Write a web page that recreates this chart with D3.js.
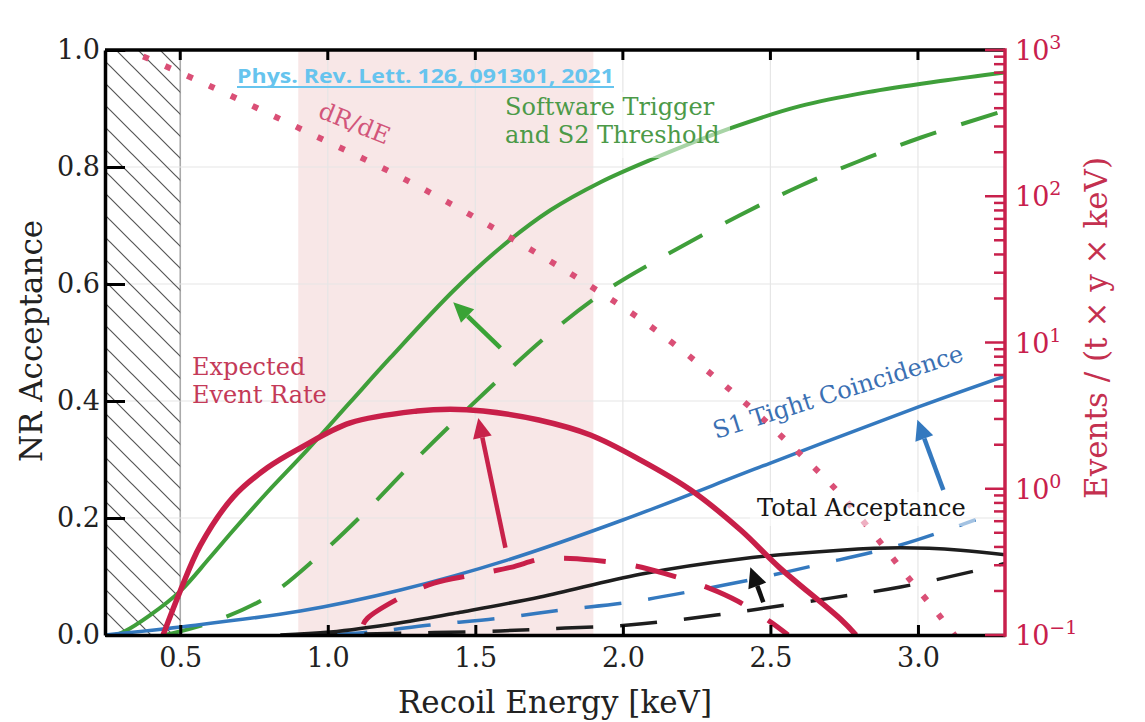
<!DOCTYPE html>
<html>
<head>
<meta charset="utf-8">
<script src="https://cdn.jsdelivr.net/npm/d3@7"></script>
<style>
  body { margin: 0; background: #fff; }
  svg { display: block; font-family: "DejaVu Serif", serif; }
</style>
</head>
<body>
<svg id="chart" width="1145" height="722"></svg>
<script>
// --- data (energy in keV) ---
// acceptance curves, left axis
var trigE   = [0.28, 0.307, 0.398, 0.5, 0.6, 0.68, 0.795, 0.93, 1.076, 1.212, 1.425, 1.585, 1.754, 1.924, 2.093, 2.375, 2.6, 2.83, 3.076, 3.3];
var trigAcc = [0.0, 0.005, 0.034, 0.075, 0.132, 0.179, 0.244, 0.316, 0.398, 0.474, 0.588, 0.662, 0.726, 0.774, 0.812, 0.868, 0.904, 0.928, 0.947, 0.962];
var trigDashE   = [0.449, 0.602, 0.795, 0.964, 1.134, 1.314, 1.527, 1.754, 1.947, 2.127, 2.398, 2.602, 2.795, 3.008, 3.297];
var trigDashAcc = [0.0, 0.021, 0.065, 0.133, 0.214, 0.308, 0.412, 0.516, 0.59, 0.644, 0.718, 0.768, 0.809, 0.85, 0.897];
var s1E   = [0.246, 0.5, 0.907, 1.246, 1.608, 2.002, 2.5, 3.002, 3.297];
var s1Acc = [0.0, 0.0137, 0.041, 0.077, 0.128, 0.197, 0.294, 0.39, 0.443];
var s1DashE   = [1.008, 1.144, 1.347, 1.585, 1.798, 2.019, 2.236, 2.476, 2.659, 2.941, 3.195];
var s1DashAcc = [0.0, 0.005, 0.017, 0.029, 0.043, 0.056, 0.075, 0.099, 0.12, 0.154, 0.197];
var totE   = [0.839, 1.008, 1.246, 1.449, 1.72, 2.059, 2.398, 2.737, 2.941, 3.144, 3.297];
var totAcc = [0.0, 0.005, 0.021, 0.039, 0.065, 0.104, 0.13, 0.145, 0.149, 0.145, 0.137];
var totDashE   = [0.907, 1.246, 1.585, 1.805, 2.019, 2.239, 2.456, 2.703, 2.941, 3.222, 3.297];
var totDashAcc = [0.0, 0.003, 0.007, 0.012, 0.017, 0.029, 0.044, 0.063, 0.082, 0.113, 0.123];

// event rates, right (log) axis, events / (t x y x keV)
var dRdE_E    = [0.3, 0.35, 0.6, 0.93, 1.26, 1.58, 1.89, 2.12, 2.4, 2.54, 2.73, 2.85, 2.96, 3.08, 3.15];
var dRdE_rate = [1050, 950, 568, 275, 131, 57.8, 24.3, 11.8, 4.1, 2.26, 0.95, 0.49, 0.257, 0.13, 0.085];
var rateE   = [0.442, 0.5, 0.568, 0.68, 0.795, 0.907, 1.076, 1.303, 1.415, 1.527, 1.715, 1.89, 2.06, 2.23, 2.4, 2.53, 2.74, 2.79];
var rateVal = [0.1, 0.2, 0.41, 0.88, 1.39, 1.9, 2.82, 3.4, 3.5, 3.4, 2.95, 2.33, 1.57, 0.98, 0.52, 0.29, 0.127, 0.1];
var rateDashE   = [1.12, 1.134, 1.25, 1.36, 1.49, 1.62, 1.72, 1.8, 1.9, 2.03, 2.14, 2.29, 2.39, 2.5, 2.56];
var rateDashVal = [0.118, 0.13, 0.182, 0.226, 0.257, 0.29, 0.33, 0.335, 0.325, 0.30, 0.264, 0.21, 0.17, 0.123, 0.1];

var xTicks = [0.5, 1.0, 1.5, 2.0, 2.5, 3.0];
var yTicks = [0.0, 0.2, 0.4, 0.6, 0.8, 1.0];
var rTicks = [-1, 0, 1, 2, 3];   // decades on the right axis

// arrows: [E tail, acc tail, E head, acc head, colour]
var arrows = [
  [1.585, 0.491, 1.425, 0.569, '#3aa336'],
  [1.602, 0.149, 1.51, 0.371, '#c8224a'],
  [3.086, 0.248, 2.998, 0.368, '#3479bf'],
  [2.476, 0.056, 2.432, 0.116, '#111']
];

var GREEN = '#3f9f3a', BLUE = '#3479bf', RED = '#c81f49', BLACK = '#1e1e1e', PINK = '#da4f76';

var svg = d3.select('#chart');
var pL = 105, pR = 1005, pT = 50, pB = 635;

var x = d3.scaleLinear().domain([0.245, 3.295]).range([pL, pR]);
var yL = d3.scaleLinear().domain([0, 1]).range([pB, pT]);
var yR = d3.scaleLog().domain([0.1, 1000]).range([pB, pT]);

var defs = svg.append('defs');
defs.append('clipPath').attr('id', 'plot')
  .append('rect').attr('x', pL).attr('y', pT).attr('width', pR - pL).attr('height', pB - pT);
var hatch = defs.append('pattern').attr('id', 'hatch')
  .attr('patternUnits', 'userSpaceOnUse').attr('width', 22).attr('height', 22);
hatch.append('path').attr('d', 'M-2,-2 L24,24 M-2,20 L2,24 M20,-2 L24,2')
  .attr('stroke', '#555').attr('stroke-width', 1.2);

// shaded energy window
svg.append('rect')
  .attr('x', x(0.9)).attr('y', pT)
  .attr('width', x(1.9) - x(0.9)).attr('height', pB - pT)
  .attr('fill', '#f8e7e7');

// grid
svg.append('g').selectAll('line').data(xTicks).enter().append('line')
  .attr('x1', d => x(d)).attr('x2', d => x(d)).attr('y1', pT).attr('y2', pB)
  .attr('stroke', d => d === 0.5 ? '#aaa' : '#e6e6e6').attr('stroke-width', d => d === 0.5 ? 1.6 : 1.2);
svg.append('g').selectAll('line').data(yTicks.slice(1, 5)).enter().append('line')
  .attr('x1', pL).attr('x2', pR).attr('y1', d => yL(d)).attr('y2', d => yL(d))
  .attr('stroke', '#e6e6e6').attr('stroke-width', 1.2);

// hatched region below threshold
svg.append('rect')
  .attr('x', pL).attr('y', pT)
  .attr('width', x(0.5) - pL).attr('height', pB - pT)
  .attr('fill', 'url(#hatch)');

var plot = svg.append('g').attr('clip-path', 'url(#plot)');

function accLine(es, vs) {
  return d3.line().curve(d3.curveCatmullRom.alpha(0.5))
    .x(d => x(d[0])).y(d => yL(d[1]))(d3.zip(es, vs));
}
function rateLine(es, vs) {
  return d3.line().curve(d3.curveCatmullRom.alpha(0.5))
    .x(d => x(d[0])).y(d => yR(d[1]))(d3.zip(es, vs));
}

var series = [
  { d: accLine(trigE, trigAcc), c: GREEN, w: 4, dash: null },
  { d: accLine(trigDashE, trigDashAcc), c: GREEN, w: 4, dash: '38,26' },
  { d: accLine(s1E, s1Acc), c: BLUE, w: 3.5, dash: null },
  { d: accLine(s1DashE, s1DashAcc), c: BLUE, w: 3.5, dash: '37,27' },
  { d: accLine(totE, totAcc), c: BLACK, w: 3.5, dash: null },
  { d: accLine(totDashE, totDashAcc), c: BLACK, w: 3.5, dash: '37,27' },
  { d: rateLine(dRdE_E, dRdE_rate), c: PINK, w: 6, dash: '6,18' },
  { d: rateLine(rateDashE, rateDashVal), c: RED, w: 5, dash: '42,30' },
  { d: rateLine(rateE, rateVal), c: RED, w: 5.5, dash: null }
];
plot.selectAll('path.curve').data(series).enter().append('path')
  .attr('class', 'curve')
  .attr('d', d => d.d)
  .attr('fill', 'none')
  .attr('stroke', d => d.c)
  .attr('stroke-width', d => d.w)
  .attr('stroke-dasharray', d => d.dash);

// label backgrounds (semi-transparent white boxes over the curves)
svg.append('rect').attr('x', 598).attr('y', 92).attr('width', 132).attr('height', 66)
  .attr('fill', '#fff').attr('opacity', 0.55);
svg.append('rect').attr('x', 750).attr('y', 492).attr('width', 225).attr('height', 34)
  .attr('fill', '#fff').attr('opacity', 0.55);

// arrows
arrows.forEach(function (a) {
  var x1 = x(a[0]), y1 = yL(a[1]), x2 = x(a[2]), y2 = yL(a[3]);
  var ang = Math.atan2(y2 - y1, x2 - x1), hl = 20, hw = 9.5;
  var bx = x2 - hl * Math.cos(ang), by = y2 - hl * Math.sin(ang);
  svg.append('line').attr('x1', x1).attr('y1', y1).attr('x2', bx).attr('y2', by)
    .attr('stroke', a[4]).attr('stroke-width', 4.5);
  var px = -Math.sin(ang) * hw, py = Math.cos(ang) * hw;
  svg.append('path')
    .attr('d', 'M' + x2 + ',' + y2 + 'L' + (bx + px) + ',' + (by + py) + 'L' + (bx - px) + ',' + (by - py) + 'Z')
    .attr('fill', a[4]);
});

// annotations
var afs = 24;
svg.append('text').attr('x', 237).attr('y', 83)
  .attr('font-family', '"Open Sans", sans-serif').attr('font-weight', 700).attr('font-size', 20)
  .attr('textLength', 377).attr('lengthAdjust', 'spacingAndGlyphs')
  .attr('fill', '#66c4ee').text('Phys. Rev. Lett. 126, 091301, 2021');
svg.append('line').attr('x1', 237).attr('x2', 614).attr('y1', 87).attr('y2', 87)
  .attr('stroke', '#66c4ee').attr('stroke-width', 2);

svg.append('text').attr('transform', 'translate(317,117) rotate(22)')
  .attr('font-size', afs).attr('fill', '#d2557a').text('dR/dE');

var sw = svg.append('text').attr('font-size', afs).attr('fill', '#4c9a48');
sw.append('tspan').attr('x', 505).attr('y', 115).text('Software Trigger');
sw.append('tspan').attr('x', 505).attr('y', 143).text('and S2 Threshold');

var er = svg.append('text').attr('font-size', afs).attr('fill', '#c43a58');
er.append('tspan').attr('x', 192).attr('y', 375).text('Expected');
er.append('tspan').attr('x', 192).attr('y', 403).text('Event Rate');

svg.append('text').attr('transform', 'translate(716,439) rotate(-17.5)')
  .attr('font-size', afs).attr('fill', '#3b70b3').text('S1 Tight Coincidence');

svg.append('text').attr('x', 757).attr('y', 516)
  .attr('font-size', afs).attr('fill', '#151515').text('Total Acceptance');

// axes
var fs = 27;
var gL = svg.append('g').attr('transform', 'translate(' + pL + ',0)')
  .call(d3.axisLeft(yL).tickValues(yTicks).tickFormat(d3.format('.1f'))
    .tickSize(-20).tickSizeOuter(0).tickPadding(5));
gL.selectAll('text').attr('font-size', fs).attr('font-family', '"DejaVu Serif", serif').attr('fill', '#222');
gL.selectAll('line').attr('stroke', '#000').attr('stroke-width', 3);
gL.select('.domain').attr('stroke', '#000').attr('stroke-width', 3.5);

var gB = svg.append('g').attr('transform', 'translate(0,' + pB + ')')
  .call(d3.axisBottom(x).tickValues(xTicks).tickFormat(d3.format('.1f'))
    .tickSize(-10).tickSizeOuter(0).tickPadding(13));
gB.selectAll('text').attr('font-size', fs).attr('font-family', '"DejaVu Serif", serif').attr('fill', '#222');
gB.selectAll('line').attr('stroke', '#000').attr('stroke-width', 3);
gB.select('.domain').attr('stroke', '#000').attr('stroke-width', 3.5);

// top frame with inward ticks
svg.append('line').attr('x1', pL).attr('x2', pR).attr('y1', pT).attr('y2', pT)
  .attr('stroke', '#000').attr('stroke-width', 3.5);
svg.append('g').selectAll('line').data(xTicks).enter().append('line')
  .attr('x1', d => x(d)).attr('x2', d => x(d)).attr('y1', pT).attr('y2', pT + 10)
  .attr('stroke', '#000').attr('stroke-width', 3);

// right log axis
var RAX = '#c8204c';
svg.append('line').attr('x1', pR).attr('x2', pR).attr('y1', pT - 1.7).attr('y2', pB + 1.7)
  .attr('stroke', RAX).attr('stroke-width', 3.5);
var rt = yR.ticks();
svg.append('g').selectAll('line').data(rt).enter().append('line')
  .attr('x1', pR).attr('y1', d => yR(d)).attr('y2', d => yR(d))
  .attr('x2', d => Math.abs(Math.log10(d) - Math.round(Math.log10(d))) < 1e-9 ? pR - 20 : pR - 11)
  .attr('stroke', RAX).attr('stroke-width', 2.5);
var rl = svg.append('g').selectAll('text').data(rTicks).enter().append('text')
  .attr('x', pR + 10).attr('y', d => yR(Math.pow(10, d)) + 10)
  .attr('font-size', fs).attr('fill', RAX);
rl.append('tspan').text('10');
rl.append('tspan').attr('dy', -11).attr('font-size', 19).text(d => d < 0 ? '\u2212' + (-d) : d);

// axis titles
svg.append('text').attr('x', 555).attr('y', 713).attr('text-anchor', 'middle')
  .attr('font-size', 31).attr('fill', '#222').text('Recoil Energy [keV]');
svg.append('text').attr('transform', 'translate(42,341) rotate(-90)')
  .attr('text-anchor', 'middle').attr('font-size', 31).attr('fill', '#222').text('NR Acceptance');
svg.append('text').attr('transform', 'translate(1107,328) rotate(-90)')
  .attr('text-anchor', 'middle').attr('font-size', 31).attr('fill', '#c4304f').text('Events / (t \u00d7 y \u00d7 keV)');
</script>
</body>
</html>
